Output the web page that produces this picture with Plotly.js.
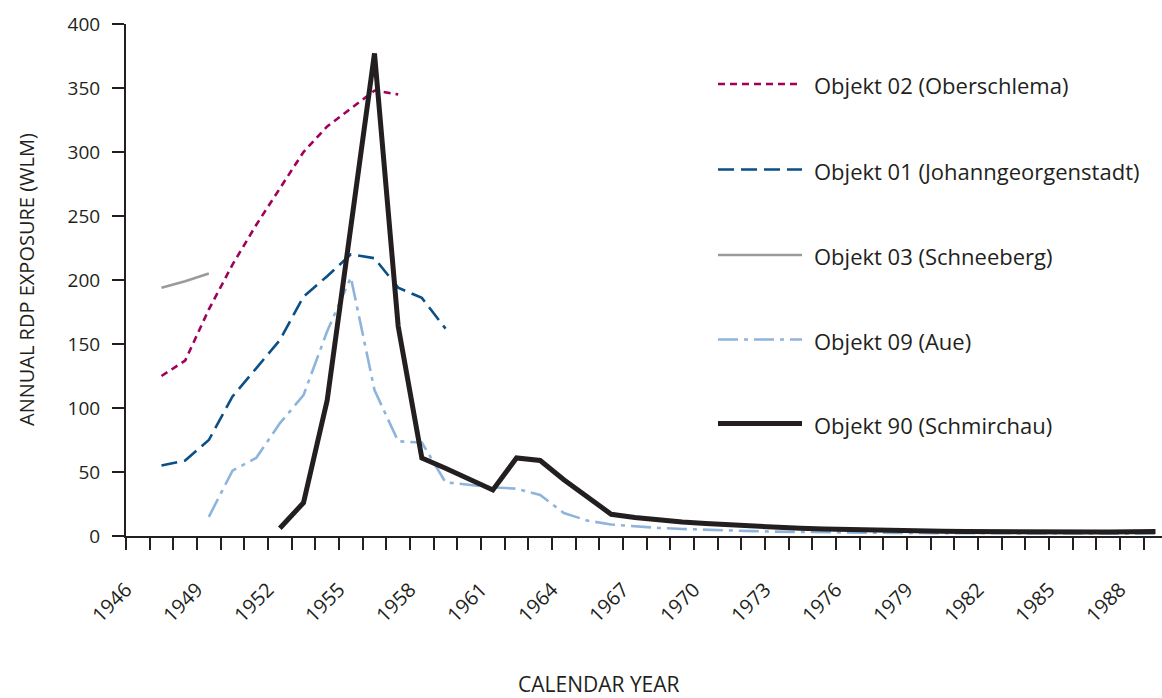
<!DOCTYPE html>
<html>
<head>
<meta charset="utf-8">
<script src="https://cdn.plot.ly/plotly-3.0.1.min.js"></script>
<style>
  html, body { margin: 0; padding: 0; background: #ffffff; }
  #chart { width: 1162px; height: 698px; }
</style>
</head>
<body>
<div id="chart"></div>
<script>
// ---- Data (annual RDP exposure, WLM; values plotted at mid-year) ----
const years02 = [1947, 1948, 1949, 1950, 1951, 1952, 1953, 1954, 1955, 1956, 1957];
const obj02 = [125, 137, 177, 212, 243, 272, 300, 320, 334, 348, 345];

const years01 = [1947, 1948, 1949, 1950, 1951, 1952, 1953, 1954, 1955, 1956, 1957, 1958, 1959];
const obj01 = [55, 59, 75, 109, 131, 153, 187, 203, 220, 217, 194, 186, 162];

const years03 = [1947, 1948, 1949];
const obj03 = [194, 199, 205];

const years09 = [1949, 1950, 1951, 1952, 1953, 1954, 1955, 1956, 1957, 1958, 1959,
                 1960, 1961, 1962, 1963, 1964, 1965, 1966, 1967, 1968, 1969, 1970,
                 1971, 1972, 1973, 1974, 1975, 1976, 1977, 1978, 1979, 1980, 1981,
                 1982, 1983, 1984, 1985, 1986, 1987, 1988, 1989];
const obj09 = [15, 51, 61, 88, 110, 160, 202, 114, 74, 73, 42,
               40, 38, 37, 32, 18, 12, 9, 7.5, 6.3, 5.5, 4.8,
               4.2, 3.8, 3.4, 3.1, 2.9, 2.7, 2.5, 2.4, 2.3, 2.2, 2.1,
               2.0, 2.0, 1.9, 1.9, 1.9, 1.8, 1.8, 1.8];

const years90 = [1952, 1953, 1954, 1955, 1956, 1957, 1958, 1959, 1960, 1961, 1962,
                 1963, 1964, 1965, 1966, 1967, 1968, 1969, 1970, 1971, 1972, 1973,
                 1974, 1975, 1976, 1977, 1978, 1979, 1980, 1981, 1982, 1983, 1984,
                 1985, 1986, 1987, 1988, 1989];
const obj90 = [6, 26, 106, 240, 377, 164, 61, 53, 45, 36, 61,
               59, 44, 30, 17, 14.5, 12.5, 11, 9.7, 8.6, 7.6, 6.8,
               6.0, 5.4, 4.9, 4.5, 4.2, 3.9, 3.7, 3.5, 3.3, 3.2, 3.1,
               3.0, 3.0, 3.1, 3.3, 3.6];

const seriesNames = [
  "Objekt 02 (Oberschlema)",
  "Objekt 01 (Johanngeorgenstadt)",
  "Objekt 03 (Schneeberg)",
  "Objekt 09 (Aue)",
  "Objekt 90 (Schmirchau)"
];

// x-axis ticks: one per year, labels every third year
const tickYears = [];
for (let y = 1946; y <= 1989; y++) tickYears.push(y);
const tickLabels = tickYears.map(y => ((y - 1946) % 3 === 0 ? String(y) : ""));
const yTicks = [0, 50, 100, 150, 200, 250, 300, 350, 400];

// ---- Styles ----
const INK = "#231f20";
const FONT = "Open Sans, Noto Sans, sans-serif";
const styles = [
  { color: "#a0005a", width: 2.6, dash: "7px,5px" },
  { color: "#0a4f86", width: 2.6, dash: "16px,7px" },
  { color: "#9a9a9a", width: 2.6, dash: "solid" },
  { color: "#8fb4dc", width: 2.6, dash: "20px,6px,4px,6px" },
  { color: INK, width: 5, dash: "solid" }
];

const mid = arr => arr.map(y => y + 0.5);   // plot each annual value at mid-year
const xs = [mid(years02), mid(years01), mid(years03), mid(years09), mid(years90)];
const ys = [obj02, obj01, obj03, obj09, obj90];

const traces = xs.map((x, i) => ({
  type: "scatter",
  mode: "lines",
  x: x,
  y: ys[i],
  name: seriesNames[i],
  line: { color: styles[i].color, width: styles[i].width, dash: styles[i].dash },
  hoverinfo: "x+y+name"
}));

// ---- Layout geometry ----
const W = 1162, H = 698;
const M = { l: 126, r: 0, t: 24, b: 162 };
const PW = W - M.l - M.r, PH = H - M.t - M.b;
const px2x = px => (px - M.l) / PW;
const px2y = py => (H - M.b - py) / PH;

// manual legend (long line samples)
const legendY = [84, 169.5, 255, 339.5, 423.5];
const shapes = [];
const annotations = [];
legendY.forEach((py, i) => {
  shapes.push({
    type: "line", xref: "paper", yref: "paper",
    x0: px2x(718), x1: px2x(802), y0: px2y(py), y1: px2y(py),
    line: { color: styles[i].color, width: styles[i].width, dash: styles[i].dash }
  });
  annotations.push({
    xref: "paper", yref: "paper", x: px2x(812), y: px2y(py + 1),
    xanchor: "left", yanchor: "middle", showarrow: false,
    text: seriesNames[i], font: { family: FONT, size: 22, color: INK }
  });
});

// axis titles
annotations.push({
  xref: "paper", yref: "paper", x: px2x(26), y: px2y(280),
  xanchor: "center", yanchor: "middle", textangle: -90, showarrow: false,
  text: "ANNUAL RDP EXPOSURE (WLM)", font: { family: FONT, size: 20, color: INK }
});
annotations.push({
  xref: "paper", yref: "paper", x: px2x(599), y: px2y(684),
  xanchor: "center", yanchor: "middle", showarrow: false,
  text: "CALENDAR YEAR", font: { family: FONT, size: 21, color: INK }
});

const layout = {
  width: W, height: H,
  margin: M,
  paper_bgcolor: "#ffffff",
  plot_bgcolor: "#ffffff",
  showlegend: false,
  font: { family: FONT, size: 19, color: INK },
  xaxis: {
    range: [1946, 1946 + PW / 23.667],
    tickmode: "array",
    tickvals: tickYears,
    ticktext: tickLabels,
    tickangle: -45,
    ticks: "outside", ticklen: 12, tickwidth: 2, tickcolor: INK,
    showline: true, linewidth: 2, linecolor: INK,
    showgrid: false, zeroline: false,
    ticklabelstandoff: 20,
    tickfont: { family: FONT, size: 20, color: INK },
    fixedrange: true
  },
  yaxis: {
    range: [0, 400],
    tickmode: "array",
    tickvals: yTicks,
    ticks: "outside", ticklen: 12, tickwidth: 2, tickcolor: INK,
    showline: true, linewidth: 2, linecolor: INK,
    showgrid: false, zeroline: false,
    ticklabelstandoff: 8,
    tickfont: { family: FONT, size: 19, color: INK },
    fixedrange: true
  },
  shapes: shapes,
  annotations: annotations
};

Plotly.newPlot("chart", traces, layout, { displayModeBar: false, staticPlot: false });
</script>
</body>
</html>
